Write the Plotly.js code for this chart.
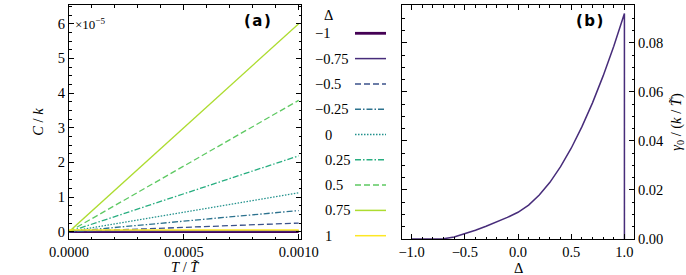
<!DOCTYPE html>
<html><head><meta charset="utf-8">
<script src="https://cdn.plot.ly/plotly-3.0.1.min.js"></script>
<style>html,body{margin:0;padding:0;background:#fff}</style>
</head><body><div id="chart" style="width:686px;height:275px"></div>
<script>
// ---- data ----
const T = [0, 0.001];                       // T / T~
// C / k (in units of 1e-5) for each Delta
const C_neg1   = [0, 0];
const C_neg075 = [0, 0.02];
const C_neg05  = [0, 0.25];
const C_neg025 = [0, 0.61];
const C_0      = [0, 1.12];
const C_025    = [0, 2.19];
const C_05     = [0, 3.79];
const C_075    = [0, 6.0];
const C_1      = [0.05, 0.05];
const deltaLabels = ['−1', '−0.75', '−0.5', '−0.25', '0', '0.25', '0.5', '0.75', '1'];

// panel (b): gamma_0 vs Delta
const deltaB = [-1.0, -0.9, -0.8, -0.75, -0.7, -0.6, -0.5, -0.4, -0.3, -0.2, -0.1, 0.0,
                0.1, 0.2, 0.3, 0.4, 0.5, 0.6, 0.7, 0.8, 0.9, 1.0, 1.0];
const gamma0 = [0, 0, 0, 0, 0.0001, 0.0008, 0.0021, 0.0036, 0.0052, 0.0069, 0.0088, 0.0109,
                0.0138, 0.0179, 0.0231, 0.0295, 0.0370, 0.0457, 0.0555, 0.0665, 0.0786, 0.0919, 0];

// ---- styles ----
const series = [C_neg1, C_neg075, C_neg05, C_neg025, C_0, C_025, C_05, C_075, C_1];
const colors = ['#440154', '#472c7a', '#3b528b', '#2c728e', '#21918c', '#28ae80', '#5ec962', '#addc30', '#fde725'];
const dashes = ['solid', 'solid', '6px,3px', '6px,2px,1.5px,2px', '1.5px,1.5px', '6px,2px,1.5px,2px', '6px,3px', 'solid', 'solid'];
const widths = [2.6, 1.3, 1.3, 1.3, 1.3, 1.3, 1.3, 1.3, 1.3];

const W = 686, H = 275, M = {l: 69, r: 52, t: 5, b: 36};
const px = x => (x - M.l) / (W - M.l - M.r);
const py = y => (H - M.b - y) / (H - M.t - M.b);

const serif = 'Liberation Serif';
const fnt = {family: serif, size: 14.5, color: '#000'};

const traces = series.map((s, i) => ({
  x: T, y: s, xaxis: 'x', yaxis: 'y', mode: 'lines', showlegend: false,
  line: {color: colors[i], width: widths[i], dash: dashes[i]}, hoverinfo: 'skip'
}));
traces.push({
  x: deltaB, y: gamma0, xaxis: 'x2', yaxis: 'y2', mode: 'lines', showlegend: false,
  line: {color: '#472c7a', width: 1.5}, hoverinfo: 'skip'
});

const axBase = {
  showline: true, linecolor: '#000', linewidth: 1, mirror: 'allticks',
  ticks: 'inside', ticklen: 5, tickwidth: 1, tickcolor: '#000',
  showgrid: false, zeroline: false, tickfont: fnt,
};

const shapes = [];
const annotations = [];
const rowY = [33.3, 58.6, 83.9, 109.2, 134.5, 159.8, 185.1, 210.4, 235.7];
deltaLabels.forEach((lab, i) => {
  shapes.push({type: 'line', xref: 'paper', yref: 'paper',
    x0: px(355), x1: px(386), y0: py(rowY[i]), y1: py(rowY[i]),
    line: {color: colors[i], width: widths[i] + 0.2, dash: dashes[i]}});
  annotations.push({xref: 'paper', yref: 'paper', x: px(lab.startsWith('−') ? 313 : 323), y: py(rowY[i]),
    xanchor: 'left', yanchor: 'middle', text: lab, showarrow: false, font: fnt});
});
annotations.push({xref: 'paper', yref: 'paper', x: px(328), y: py(15), xanchor: 'center', yanchor: 'middle',
  text: 'Δ', showarrow: false, font: fnt});
annotations.push({xref: 'paper', yref: 'paper', x: px(73), y: py(24), xanchor: 'left', yanchor: 'middle',
  text: '×10<sup>−5</sup>', showarrow: false, font: {family: serif, size: 13, color: '#000'}});
annotations.push({xref: 'paper', yref: 'paper', x: px(257), y: py(21), xanchor: 'center', yanchor: 'middle',
  text: '<b>(\u200Aa\u200A)</b>', showarrow: false, font: {family: 'DejaVu Sans', size: 15, color: '#000'}});
annotations.push({xref: 'paper', yref: 'paper', x: px(589), y: py(21), xanchor: 'center', yanchor: 'middle',
  text: '<b>(\u200Ab\u200A)</b>', showarrow: false, font: {family: 'DejaVu Sans', size: 15, color: '#000'}});
// x-axis titles
annotations.push({xref: 'paper', yref: 'paper', x: px(185), y: py(277), xanchor: 'center', yanchor: 'bottom',
  text: '<i>T</i> / <i>T̃</i>', showarrow: false, font: fnt});
annotations.push({xref: 'paper', yref: 'paper', x: px(518), y: py(278), xanchor: 'center', yanchor: 'bottom',
  text: 'Δ', showarrow: false, font: fnt});

const layout = {
  width: W, height: H, margin: M, paper_bgcolor: '#fff', plot_bgcolor: '#fff',
  showlegend: false, font: fnt,
  xaxis: Object.assign({}, axBase, {
    domain: [0, px(301)], range: [0, 0.00101], anchor: 'y',
    tickmode: 'linear', tick0: 0, dtick: 0.0005, tickformat: '.4f',
    minor: {tickmode: 'linear', tick0: 0, dtick: 0.0001, ticks: 'inside', ticklen: 2.5, tickcolor: '#000'}
  }),
  yaxis: Object.assign({}, axBase, {
    domain: [0, 1], range: [-0.21, 6.54], anchor: 'x',
    tickmode: 'linear', tick0: 0, dtick: 1,
    minor: {tickmode: 'linear', tick0: 0, dtick: 0.25, ticks: 'inside', ticklen: 2.5, tickcolor: '#000'},
    title: {text: '<i>C</i> / <i>k</i>', font: fnt, standoff: 10}
  }),
  xaxis2: Object.assign({}, axBase, {
    domain: [px(402), 1], range: [-1.09, 1.09], anchor: 'y2',
    tickmode: 'linear', tick0: 0, dtick: 0.5, tickformat: '.1f',
    minor: {tickmode: 'linear', tick0: 0, dtick: 0.1, ticks: 'inside', ticklen: 2.5, tickcolor: '#000'}
  }),
  yaxis2: Object.assign({}, axBase, {
    domain: [0, 1], range: [0, 0.0954], anchor: 'x2', side: 'right',
    tickmode: 'linear', tick0: 0, dtick: 0.02, tickformat: '.2f',
    minor: {tickmode: 'linear', tick0: 0, dtick: 0.005, ticks: 'inside', ticklen: 2.5, tickcolor: '#000'},
    title: {text: '<i>γ</i><sub>0</sub> / (<i>k</i> / <i>T̃</i>)', font: fnt, standoff: 8}
  }),
  shapes: shapes,
  annotations: annotations
};

Plotly.newPlot('chart', traces, layout, {staticPlot: true, displayModeBar: false});
</script></body></html>
